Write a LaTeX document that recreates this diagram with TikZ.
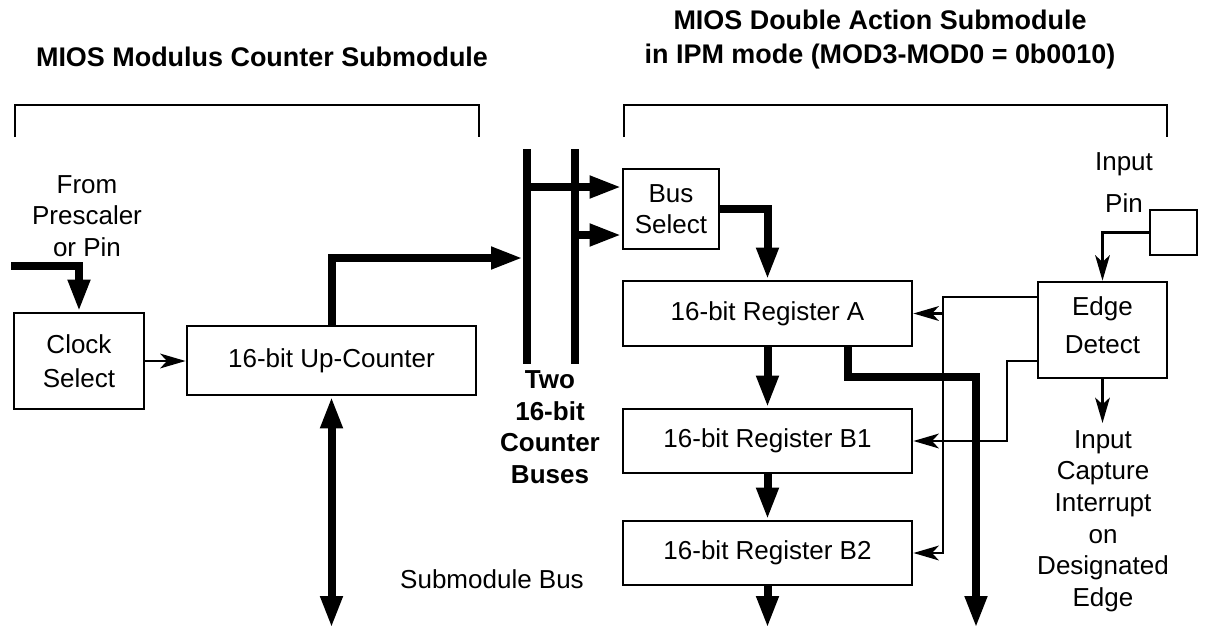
\documentclass[tikz,border=0pt]{standalone}
\usepackage{fontspec}
\setmainfont{Liberation Sans}
\usetikzlibrary{arrows.meta,fit,calc}
\newcommand{\mybodyfont}{\fontsize{19.5pt}{23.7pt}\selectfont}
\newcommand{\mytitlefont}{\fontsize{20.2pt}{26pt}\selectfont\bfseries}
\tikzset{
 box/.style={draw, line width=2.1pt, inner sep=0pt},
 pinbox/.style={draw, line width=1.5pt, inner sep=0pt},
 bracket/.style={line width=1.6pt},
 thickln/.style={line width=6pt},
 thickarr/.style={line width=6pt, -{Triangle[length=24pt,width=15.5pt]}},
 dblarr/.style={line width=6pt, {Triangle[length=24pt,width=15.5pt]}-{Triangle[length=24pt,width=15.5pt]}},
 thinarr/.style={line width=2.1pt, -{Stealth[length=19pt,width=11pt,inset=5pt]}},
 lbl/.style={align=center, font=\mybodyfont, inner sep=0pt},
 ttl/.style={align=center, font=\mytitlefont, inner sep=0pt},
}
\begin{document}
\begin{tikzpicture}[x=0.75pt, y=-0.75pt]
\fill[white] (0,0) rectangle (1208,629);
\path[use as bounding box] (0,0) rectangle (1208,629);

% titles
\node[ttl] (t1) at (262,57) {MIOS Modulus Counter Submodule};
\node[ttl] (t2) at (880,39.5) {MIOS Double Action Submodule\\in IPM mode (MOD3-MOD0 = 0b0010)};

% brackets
\draw[bracket] (15,137) -- (15,105) -- (479,105) -- (479,137);
\draw[bracket] (624,137) -- (624,105) -- (1167,105) -- (1167,137);

% boxes
\node[box, fit={(14,313)(144,409)}] (cs) {};
\node[box, fit={(187,326)(476,395)}] (cnt) {};
\node[box, fit={(623,169)(719,249)}] (bs) {};
\node[box, fit={(623,281)(912,346)}] (ra) {};
\node[box, fit={(623,409)(912,473)}] (rb1) {};
\node[box, fit={(623,521)(912,585)}] (rb2) {};
\node[box, fit={(1038,282)(1167,378)}] (ed) {};
\node[pinbox, fit={(1150,210)(1197,255)}] (pin) {};

% box texts
\node[lbl] (cst) at (cs.center) {Clock\\[2pt]Select};
\node[lbl] (cntt) at (cnt.center) {16-bit Up-Counter};
\node[lbl] (bst) at (bs.center) {Bus\\Select};
\node[lbl] (rat) at (ra.center) {16-bit Register A};
\node[lbl] (rb1t) at (rb1.center) {16-bit Register B1};
\node[lbl] (rb2t) at (rb2.center) {16-bit Register B2};
\node[lbl] (edt) at ($(ed.center)+(0,-5)$) {Edge\\[5pt]Detect};

% buses
\coordinate (bl1) at (527,149); \coordinate (bl2) at (527,364);
\coordinate (br1) at (575,149); \coordinate (br2) at (575,364);
\draw[thickln] (bl1) -- (bl2);
\draw[thickln] (br1) -- (br2);

% left side connectors
\coordinate (pin0) at (11,266);
\draw[thickarr] (pin0) -| (cs.north);
\draw[thinarr] (cs.east) -- (cs.east -| cnt.west);
\coordinate (blin) at (523,258);
\draw[thickarr] (cnt.north) |- (blin);
\coordinate (cntbus) at (331,628);
\draw[dblarr] (cnt.south) -- (cnt.south |- cntbus);

% bus select
\coordinate (bltap) at (527,187); \coordinate (brtap) at (575,235);
\draw[thickarr] (bltap) -- (bs.west |- bltap);
\draw[thickarr] (brtap) -- (bs.west |- brtap);
\draw[thickarr] (bs.east) -| (ra.north);

% registers
\draw[thickarr] (ra.south) -- (rb1.north);
\draw[thickarr] (rb1.south) -- (rb2.north);
\coordinate (regbus) at (767,628);
\draw[thickarr] (rb2.south) -- (rb2.south |- regbus);

\coordinate (aout) at (848,0); \coordinate (cturn) at (976,377); \coordinate (cend) at (976,628);
\draw[thickarr] (ra.south -| aout) |- (cturn) -- (cend);

% edge detect
\draw[thinarr] (pin.west) -| (ed.north);
\coordinate (edA) at (1038,297); \coordinate (v1) at (943,0);
\draw[thinarr] (edA) -| (v1 |- rb2.east) -- (rb2.east);
\draw[thinarr] (v1 |- ra.east) -- (ra.east);
\coordinate (edB) at (1038,361); \coordinate (v2) at (1007,0);
\draw[thinarr] (edB) -| (v2 |- rb1.east) -- (rb1.east);
\coordinate (irq) at (1103,423);
\draw[thinarr] (ed.south) -- (ed.south |- irq);

% labels
\node[lbl] (from) at (87,216) {From\\Prescaler\\or Pin};
\node[lbl, font=\mybodyfont\bfseries] (two) at (550,427) {Two\\16-bit\\Counter\\Buses};
\node[lbl] (sbus) at (492,579) {Submodule Bus};
\node[lbl] (inp) at (1124,164) {Input};
\node[lbl] (pinl) at (1124,203) {Pin};
\node[lbl] (icap) at (1103,521) {Input\\Capture\\Interrupt\\on\\Designated\\Edge};
\end{tikzpicture}
\end{document}
